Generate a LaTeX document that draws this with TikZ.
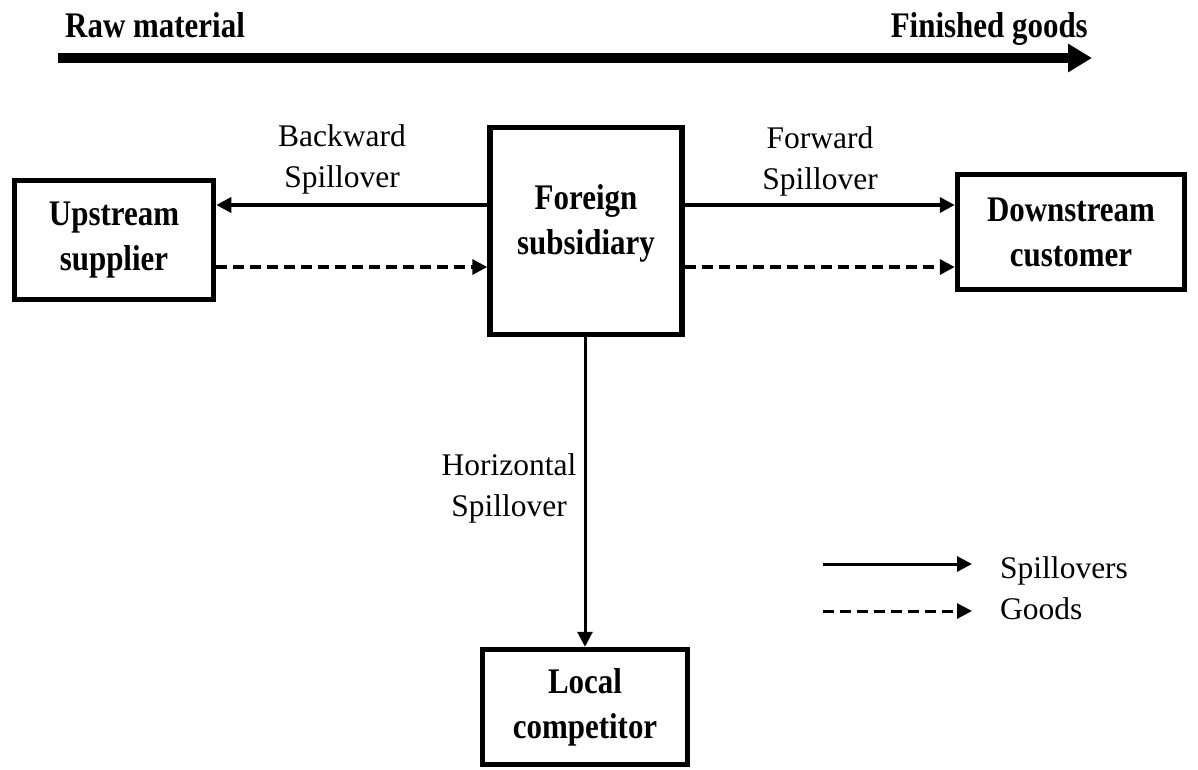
\documentclass[tikz,border=0pt]{standalone}
\usepackage{fontspec}
\setmainfont{Liberation Serif}[BoldFeatures={FakeStretch=0.86}]
\usetikzlibrary{arrows.meta}
\begin{document}
\begin{tikzpicture}[x=1pt,y=-1pt,
  boxnode/.style={draw,line width=5.5pt,inner sep=0pt,align=center,
    font=\fontsize{36}{45}\selectfont\bfseries},
  boxtext/.style={inner sep=0pt,align=center,font=\fontsize{36}{45}\selectfont\bfseries},
  lbl/.style={inner sep=0pt,align=center,font=\fontsize{31.5}{41}\selectfont},
  toptext/.style={inner sep=0pt,font=\fontsize{36}{40}\selectfont\bfseries},
  spill/.style={line width=3.5pt,-{Triangle[length=15pt,width=15pt]}},
  goods/.style={line width=3.5pt,dash pattern=on 11pt off 6pt,-{Triangle[length=15pt,width=15pt]}}]
\useasboundingbox (0,0) rectangle (1198,769);

% top flow arrow
\node[toptext,anchor=base west] (raw) at (65,37) {Raw material};
\node[toptext,anchor=base east] (fin) at (1088,37) {Finished goods};
\coordinate (flowA) at (58,58);
\coordinate (flowB) at (1092,58);
\draw[line width=10pt,-{Triangle[length=24pt,width=27pt]}] (flowA) -- (flowB);

% boxes
\node[boxnode,minimum width=199pt,minimum height=119pt] (up) at (114,240) {Upstream\\supplier};
\node[boxnode,minimum width=192pt,minimum height=207pt] (foreign) at (586,231) {};
\node[boxtext] (foreignT) at ([yshift=8pt]foreign.center) {Foreign\\subsidiary};
\node[boxnode,minimum width=227pt,minimum height=115pt] (down) at (1071,232) {Downstream\\customer};
\node[boxnode,minimum width=205pt,minimum height=115pt] (local) at (585,707) {Local\\competitor};

% levels
\coordinate (lvlS) at (0,205);
\coordinate (lvlG) at (0,267);

% connectors
\draw[spill] (foreign.west |- lvlS) -- (up.east |- lvlS);
\draw[goods] (up.east |- lvlG) -- (foreign.west |- lvlG);
\draw[spill] (foreign.east |- lvlS) -- (down.west |- lvlS);
\draw[goods] (foreign.east |- lvlG) -- (down.west |- lvlG);
\draw[spill,line width=3pt] (local.north |- foreign.south) -- (local.north);

% labels
\node[lbl] (bwl) at (342,159) {Backward\\Spillover};
\node[lbl] (fwl) at (820,161) {Forward\\Spillover};
\node[lbl] (hzl) at (509,488) {Horizontal\\Spillover};

% legend
\coordinate (legSa) at (823,564);
\coordinate (legSb) at (972,564);
\coordinate (legGa) at (823,611);
\coordinate (legGb) at (972,611);
\draw[spill,line width=3pt] (legSa) -- (legSb);
\draw[goods,line width=3pt] (legGa) -- (legGb);
\node[lbl,anchor=base west] (legS) at (1000,578) {Spillovers};
\node[lbl,anchor=base west] (legG) at (1000,619) {Goods};
\end{tikzpicture}
\end{document}
